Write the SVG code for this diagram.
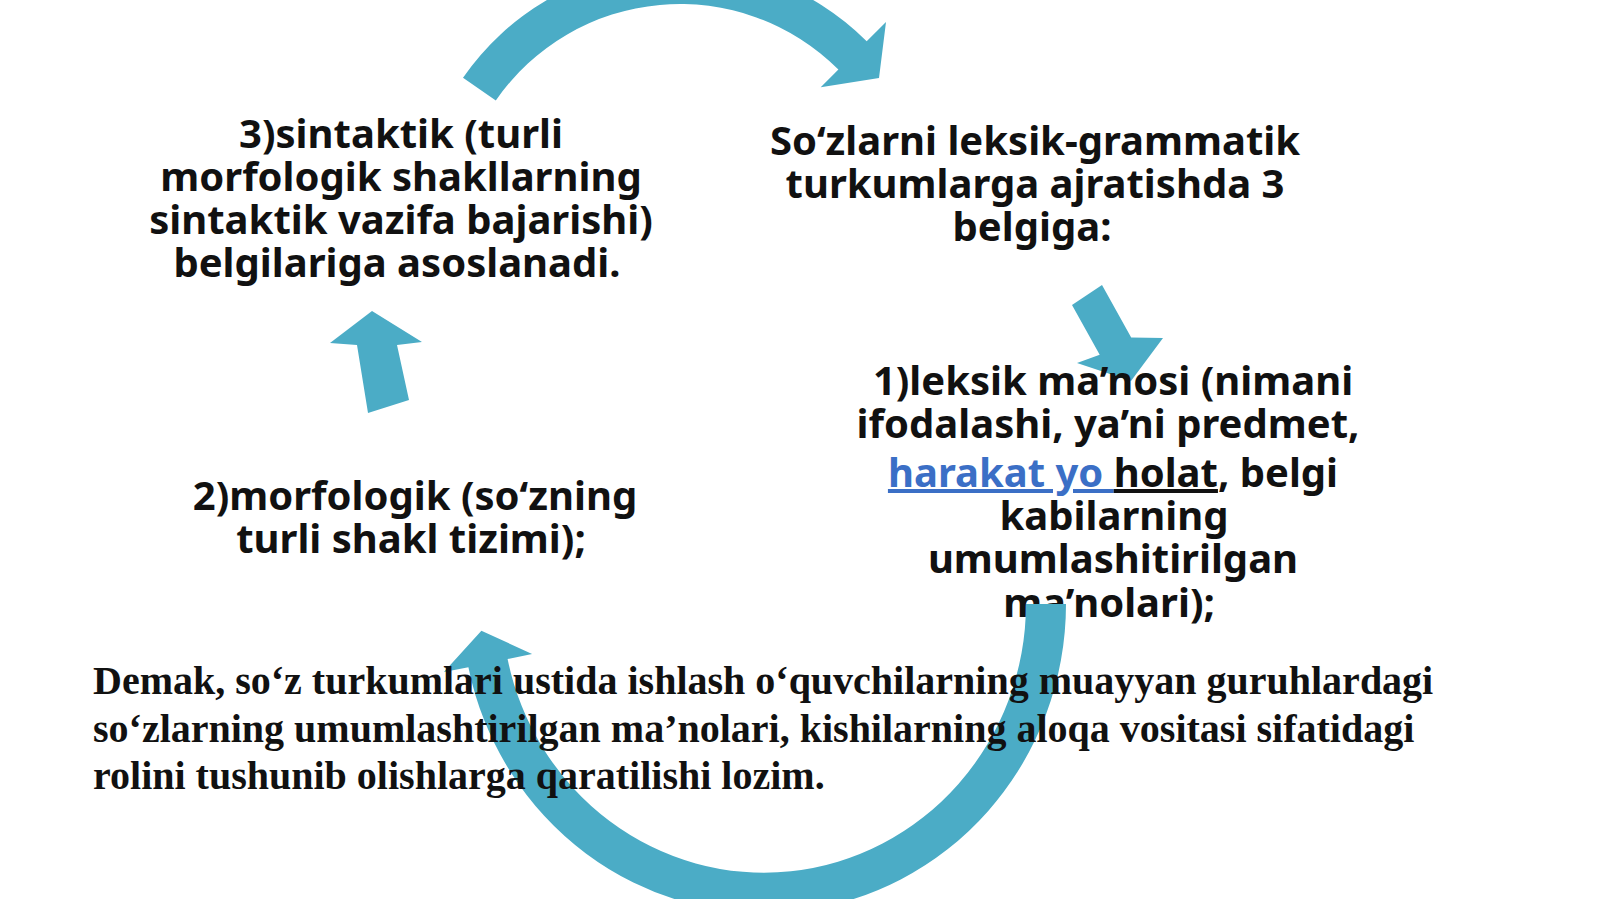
<svg xmlns="http://www.w3.org/2000/svg" width="1600" height="899" viewBox="0 0 1600 899">
<style>
.t{font-family:"Noto Sans","Open Sans",sans-serif;font-weight:700;font-size:40px;fill:#111;text-anchor:middle}
.p{font-family:"Liberation Serif","Times New Roman",serif;font-weight:700;font-size:40px;fill:#111}
.ar{fill:#4bacc6}
.lnk{fill:#3b6fc6;text-decoration:underline}
.ul{text-decoration:underline}
</style>
<rect width="1600" height="899" fill="#ffffff"/>
<g id="connectors">
<path id="arc-top" class="ar" d="M 463.0 77.7 A 264 264 0 0 1 866.7 41.3 L 886 22 L 879 78 L 820.7 87.3 L 838.4 69.6 A 224 224 0 0 0 495.8 100.5 Z"/>
<path id="arrow-down" class="ar" d="M 1072 305 L 1102 285 L 1131.2 337.4 L 1163 338 L 1131 381 L 1077 363 L 1099.7 354.8 Z"/>
<path id="arrow-up" class="ar" d="M 372 311 L 422 342 L 397 345 L 409 400 L 368 413 L 357 345 L 330 343 Z"/>
</g>
<g id="node-3">
<text class="t" x="401" y="148">3)sintaktik (turli</text>
<text class="t" x="401" y="191">morfologik shakllarning</text>
<text class="t" x="401" y="234">sintaktik vazifa bajarishi)</text>
<text class="t" x="397" y="277">belgilariga asoslanadi.</text>
</g>
<g id="node-title">
<text class="t" x="1035" y="155">So‘zlarni leksik-grammatik</text>
<text class="t" x="1035" y="198">turkumlarga ajratishda 3</text>
<text class="t" x="1032" y="241">belgiga:</text>
</g>
<g id="node-2">
<text class="t" x="415" y="510">2)morfologik (so‘zning</text>
<text class="t" x="411" y="553">turli shakl tizimi);</text>
</g>
<g id="node-1">
<text class="t" x="1113" y="395">1)leksik ma’nosi (nimani</text>
<text class="t" x="1108" y="438">ifodalashi, ya’ni predmet,</text>
<text class="t" x="1113" y="487"><tspan class="lnk">harakat yo </tspan><tspan class="ul">holat</tspan>, belgi</text>
<text class="t" x="1114" y="530">kabilarning</text>
<text class="t" x="1113" y="573">umumlashitirilgan</text>
<text class="t" x="1109" y="617">ma’nolari);</text>
</g>
<g id="connector-bottom">
<path id="arc-bottom" class="ar" d="M 1066 604 A 302 309 0 0 1 468.4 667.2 L 443.9 672 L 481.4 630.7 L 532.1 654 L 507.6 659.0 A 262 269 0 0 0 1026 604 Z"/>
</g>
<g id="summary">
<text class="p" x="93" y="694">Demak, so‘z turkumlari ustida ishlash o‘quvchilarning muayyan guruhlardagi</text>
<text class="p" x="93" y="742">so‘zlarning umumlashtirilgan ma’nolari, kishilarning aloqa vositasi sifatidagi</text>
<text class="p" x="93" y="789">rolini tushunib olishlarga qaratilishi lozim.</text>
</g>
</svg>
